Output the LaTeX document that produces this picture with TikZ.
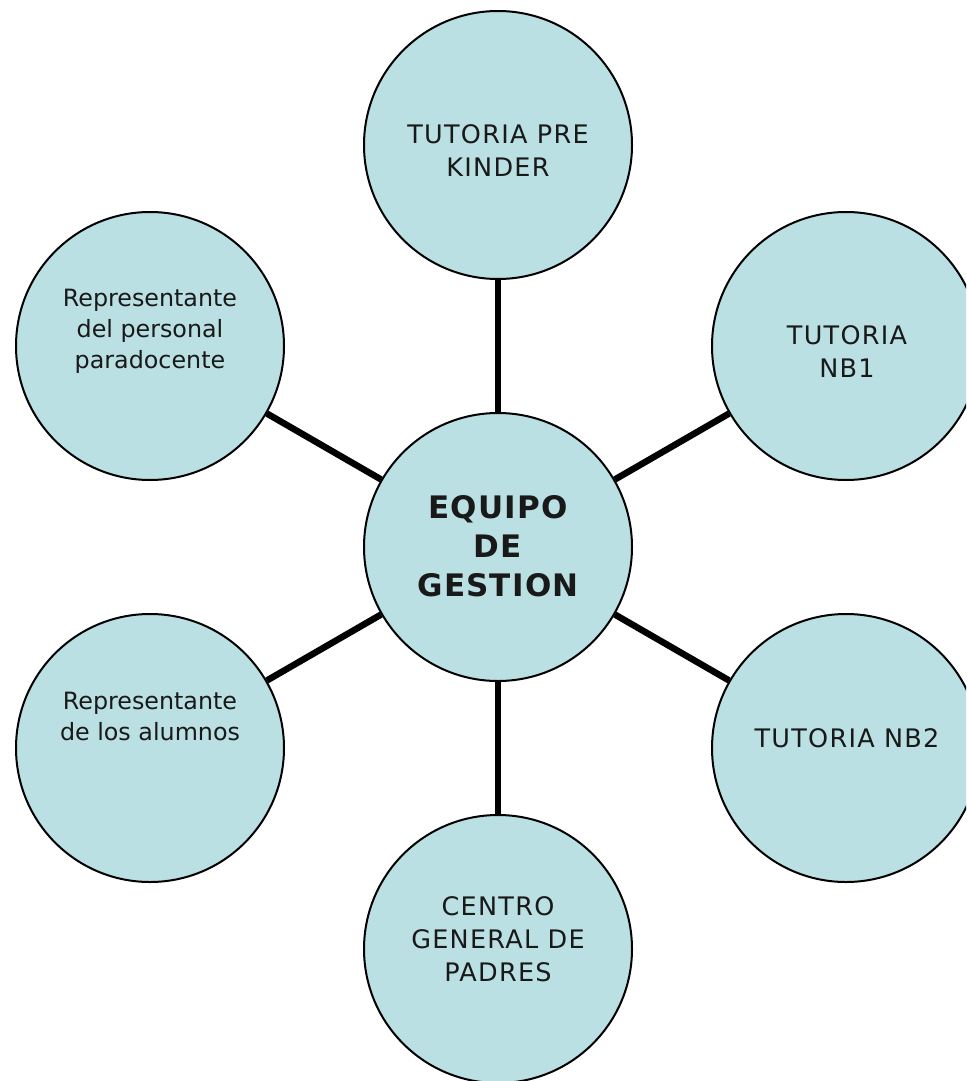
\documentclass[tikz,border=0pt]{standalone}
\usepackage{fontspec}
\setmainfont{DejaVu Sans}
\newfontfamily\capsfont[LetterSpace=5]{DejaVu Sans}
\newfontfamily\boldcaps[LetterSpace=4]{DejaVu Sans Bold}
\definecolor{bubble}{RGB}{186,224,227}
\tikzset{
  bubble/.style={circle, draw=black, line width=2pt, fill=bubble, minimum size=268pt, inner sep=0pt},
  link/.style={line width=6.5pt, draw=black},
  lbl/.style={anchor=base, inner sep=0pt, text=black!90},
}
\newcommand{\smalltxt}[1]{\fontsize{23.8}{31}\selectfont\renewcommand{\arraystretch}{1}\begin{tabular}[t]{@{}c@{}}#1\end{tabular}}
\newcommand{\capstxt}[1]{\capsfont\fontsize{25.5}{33}\selectfont\renewcommand{\arraystretch}{1}\begin{tabular}[t]{@{}c@{}}#1\end{tabular}}
\begin{document}
\begin{tikzpicture}[x=1pt,y=-1pt]
\useasboundingbox (0,0) rectangle (966,1081);
\clip (0,0) rectangle (966,1081);
\node[bubble] (ctr) at (498,547) {};
\node[bubble] (top) at (498,145) {};
\node[bubble] (nbone) at (846,346) {};
\node[bubble] (nbtwo) at (846,748) {};
\node[bubble] (bot) at (498,949) {};
\node[bubble] (lbot) at (150,748) {};
\node[bubble] (ltop) at (150,346) {};
\draw[link] (ctr) -- (top);
\draw[link] (ctr) -- (nbone);
\draw[link] (ctr) -- (nbtwo);
\draw[link] (ctr) -- (bot);
\draw[link] (ctr) -- (lbot);
\draw[link] (ctr) -- (ltop);
\node[lbl] (ctrtxt) at (498,518) {\boldcaps\fontsize{31}{39}\selectfont\renewcommand{\arraystretch}{1}\begin{tabular}[t]{@{}c@{}}EQUIPO\\DE\\GESTION\end{tabular}};
\node[lbl] (toptxt) at (498,143) {\capstxt{TUTORIA PRE\\KINDER}};
\node[lbl] (nbonetxt) at (847,344) {\capstxt{TUTORIA\\NB1}};
\node[lbl] (nbtwotxt) at (847,747) {\capstxt{TUTORIA NB2}};
\node[lbl] (bottxt) at (498,915) {\capstxt{CENTRO\\GENERAL DE\\PADRES}};
\node[lbl] (lbottxt) at (150,709) {\smalltxt{Representante\\de los alumnos}};
\node[lbl] (ltoptxt) at (150,306) {\smalltxt{Representante\\del personal\\paradocente}};
\end{tikzpicture}
\end{document}
